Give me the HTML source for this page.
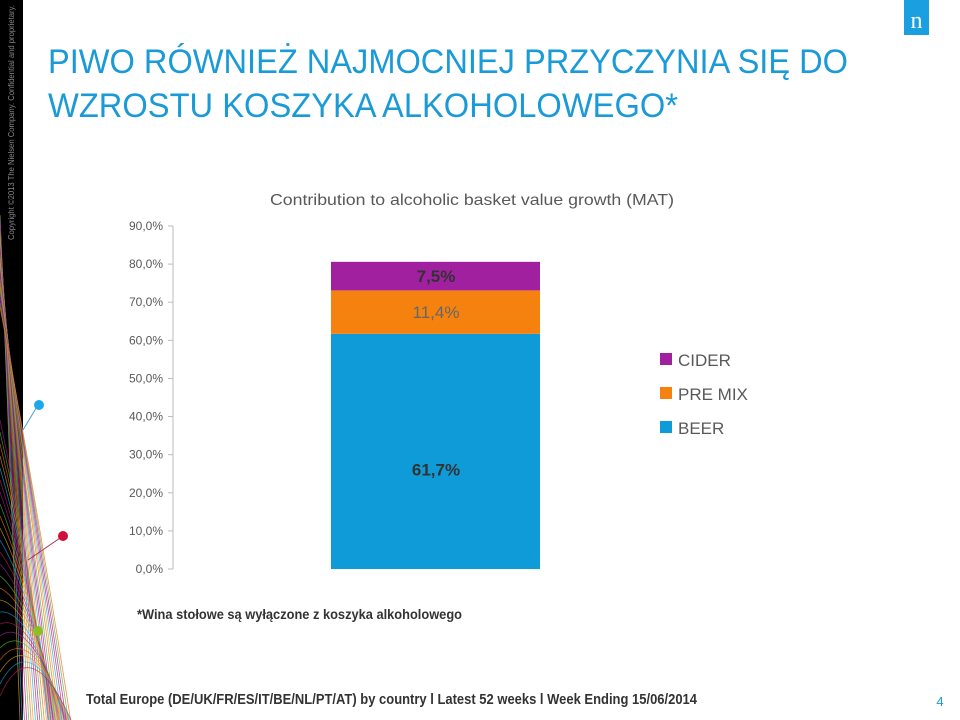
<!DOCTYPE html>
<html><head><meta charset="utf-8"><style>
body{margin:0;width:960px;height:720px;overflow:hidden;background:#fff;font-family:"Liberation Sans",sans-serif}
svg{position:absolute;left:0;top:0}
</style></head><body>
<svg width="960" height="720">
<rect x="0" y="0" width="23" height="720" fill="#000"/>
<g id="mesh"></g>
<text transform="translate(14,240) rotate(-90)" font-size="8" fill="#888" textLength="235" lengthAdjust="spacingAndGlyphs">Copyright ©2013 The Nielsen Company. Confidential and proprietary.</text>
<line x1="23" y1="430" x2="38" y2="405" stroke="#4aa0d0"/>
<circle cx="39" cy="405" r="5" fill="#1ea8e8"/>
<line x1="28" y1="560" x2="63" y2="536" stroke="#b03050"/>
<circle cx="63" cy="536" r="5" fill="#d0103a"/>
<circle cx="38" cy="631" r="5" fill="#8cc020"/>
<rect x="904" y="0" width="25" height="35" fill="#1aa0e0"/>
<text x="916.5" y="28" font-family="Liberation Serif,serif" font-size="24" fill="#fff" text-anchor="middle">n</text>
<text x="48" y="73" font-size="34" fill="#1a9ad6" textLength="800" lengthAdjust="spacingAndGlyphs">PIWO RÓWNIEŻ NAJMOCNIEJ PRZYCZYNIA SIĘ DO</text>
<text x="48" y="117" font-size="34" fill="#1a9ad6" textLength="630" lengthAdjust="spacingAndGlyphs">WZROSTU KOSZYKA ALKOHOLOWEGO*</text>
<text x="270" y="205" font-size="16" fill="#595959" textLength="404" lengthAdjust="spacingAndGlyphs">Contribution to alcoholic basket value growth (MAT)</text>
<g id="axis"></g>
<g id="bars"></g>
<g id="legend"></g>
<text x="137" y="619" font-size="14" font-weight="bold" fill="#333" textLength="325" lengthAdjust="spacingAndGlyphs">*Wina stołowe są wyłączone z koszyka alkoholowego</text>
<text x="86" y="704" font-size="15" font-weight="bold" fill="#333" textLength="611" lengthAdjust="spacingAndGlyphs">Total Europe (DE/UK/FR/ES/IT/BE/NL/PT/AT) by country l Latest 52 weeks l Week Ending 15/06/2014</text>
<text x="940" y="706" font-size="13" fill="#1a9ad6" text-anchor="middle">4</text>
</svg>
<script>
const ticks=[0,10,20,30,40,50,60,70,80,90];
const tickLabels=["0,0%","10,0%","20,0%","30,0%","40,0%","50,0%","60,0%","70,0%","80,0%","90,0%"];
const seriesNames=["BEER","PRE MIX","CIDER"];
const seriesValues=[61.7,11.4,7.5];
const valueLabels=["61,7%","11,4%","7,5%"];
const colors=["#0f9ad8","#f5820f","#a020a0"];
const NS="http://www.w3.org/2000/svg";
function mk(t,a,p){const e=document.createElementNS(NS,t);for(const k in a)e.setAttribute(k,a[k]);p.appendChild(e);return e;}
const y=v=>569-v*(343/90);
const ax=document.getElementById('axis');
const al=mk('line',{x1:173,y1:y(0),x2:173,y2:y(90),stroke:'#bbb'},ax);


ticks.forEach((t,i)=>{
 const tl=mk('line',{x1:168,y1:y(t),x2:173,y2:y(t),stroke:'#bbb'},ax);
 
 
 const tx=mk('text',{x:163,y:y(t)+4,'font-size':12,fill:'#595959','text-anchor':'end'},ax);
 tx.textContent=tickLabels[i];
 
 
});
const bg=document.getElementById('bars');
const lblFill=['#333','#666','#333'];
const lblWeight=['bold','normal','bold'];
let acc=0;
seriesValues.forEach((v,i)=>{
 const r=mk('rect',{x:331,y:y(acc+v),width:209,height:y(acc)-y(acc+v),fill:colors[i]},bg);
 
 
 const t=mk('text',{x:436,y:(y(acc)+y(acc+v))/2+(i==0?24:6),'font-size':17,'font-weight':lblWeight[i],fill:lblFill[i],'text-anchor':'middle'},bg);
 t.textContent=valueLabels[i];
 
 
 acc+=v;
});
const lg=document.getElementById('legend');
[2,1,0].forEach((s,k)=>{
 const ly=360+k*34;
 const r=mk('rect',{x:660,y:ly-7,width:12,height:12,fill:colors[s]},lg);
 
 
 const t=mk('text',{x:678,y:ly+6,'font-size':17,fill:'#595959'},lg);
 t.textContent=seriesNames[s];
 
 
});
const mesh=document.getElementById('mesh');
const mc=["#e0a020","#1ea8e8","#c02060","#a020a0","#60b030","#f07020"];
for(let i=0;i<24;i++){
 const p=mk('path',{d:`M0 ${215+i*4} Q ${10+i} ${480} ${20+i*2.2} 720`,stroke:mc[i%6],fill:'none','stroke-width':0.8,opacity:0.8},mesh);
 
 
 const q=mk('path',{d:`M0 ${420+i*12} Q 30 ${560+i*3} ${48+i} 720`,stroke:mc[(i+3)%6],fill:'none','stroke-width':0.8,opacity:0.7},mesh);
 
 
}
</script>
</body></html>
